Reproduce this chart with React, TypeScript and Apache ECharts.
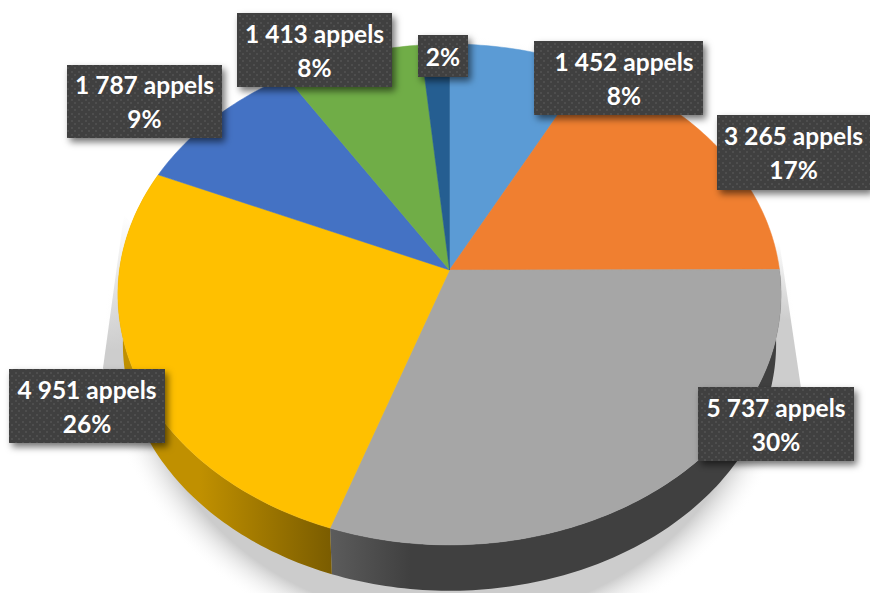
import React, { useEffect, useRef } from "react";
import * as echarts from "echarts";

const sliceNames = ["A", "B", "C", "D", "E", "F", "G"];
const appels = [1452, 3265, 5737, 4951, 1787, 1413, 290];
const labelLines = [
  "1 452 appels\n8%",
  "3 265 appels\n17%",
  "5 737 appels\n30%",
  "4 951 appels\n26%",
  "1 787 appels\n9%",
  "1 413 appels\n8%",
  "2%",
];
const topColors = ["#5B9BD5", "#F07F30", "#A6A6A6", "#FFC000", "#4472C4", "#70AD47", "#255E91"];
const wallColors: Record<number, [string, string]> = {
  2: ["#5C5C5C", "#404040"],
  3: ["#C09000", "#7A5C00"],
};
// label boxes: x, y, w, h, text centre x
const labelBoxes = [
  [534, 41, 169, 74, 624],
  [717, 115, 153, 75, 793.5],
  [698, 387, 156, 74, 776],
  [9, 369, 156, 74, 87],
  [67, 65, 155, 73, 144.5],
  [237, 13, 155, 74, 314.5],
  [418, 35, 50, 42, 443],
];

const total = appels.reduce((a, b) => a + b, 0);
const CX = 449.5, CY = 270, RX = 330, RY = 248, K = 0.0978;
const DEPTH = 50, BOTTOM_SCALE = 0.985;

function project(deg: number, dy = 0, s = 1): number[] {
  const t = (deg * Math.PI) / 180;
  const u = Math.sin(t), v = Math.cos(t);
  const d = 1 + K * v;
  return [CX + (s * RX * u) / d, CY + dy - (s * RY * v) / d];
}
function arc(a: number, b: number, dy = 0, s = 1): number[][] {
  const n = Math.max(2, Math.ceil(Math.abs(b - a)));
  const pts: number[][] = [];
  for (let i = 0; i <= n; i++) pts.push(project(a + ((b - a) * i) / n, dy, s));
  return pts;
}
function range(i: number): [number, number] {
  let before = 0;
  for (let k = 0; k < i; k++) before += appels[k];
  return [(before / total) * 360, ((before + appels[i]) / total) * 360];
}
function dotPattern(): HTMLCanvasElement {
  const c = document.createElement("canvas");
  c.width = 7; c.height = 7;
  const g = c.getContext("2d")!;
  g.fillStyle = "#404040"; g.fillRect(0, 0, 7, 7);
  g.fillStyle = "#4E4E4E";
  g.fillRect(1, 1, 2, 2);
  g.fillRect(4, 4, 2, 2);
  return c;
}

export default function App() {
  const ref = useRef<HTMLDivElement>(null);
  useEffect(() => {
    const chart = echarts.init(ref.current!, undefined, { renderer: "svg" });
    const pattern = { image: dotPattern(), repeat: "repeat" };
    const data = appels.map((v, i) => ({ name: sliceNames[i], value: v }));
    chart.setOption({
      animation: false,
      backgroundColor: "#fff",
      graphic: [
        {
          type: "ellipse", z: 0,
          shape: { cx: 450, cy: 345, rx: 348, ry: 310 },
          style: {
            fill: new echarts.graphic.RadialGradient(0.5, 0.5, 0.5, [
              { offset: 0, color: "#cccccc" },
              { offset: 0.89, color: "#cccccc" },
              { offset: 1, color: "rgba(255,255,255,0)" },
            ]),
          },
        },
        {
          type: "polygon", z: 0,
          shape: { points: [[124, 215], [103, 368], [125, 440], [200, 300]] },
          style: {
            fill: new echarts.graphic.LinearGradient(0, 215, 0, 350, [
              { offset: 0, color: "rgba(205,205,205,0)" },
              { offset: 1, color: "#cdcdcd" },
            ], true),
          },
        },
        {
          type: "polygon", z: 0,
          shape: { points: [[779, 240], [801, 388], [785, 455], [700, 300]] },
          style: {
            fill: new echarts.graphic.LinearGradient(0, 240, 0, 320, [
              { offset: 0, color: "rgba(205,205,205,0)" },
              { offset: 1, color: "#cdcdcd" },
            ], true),
          },
        },
      ],
      series: [
        {
          type: "custom", coordinateSystem: "none", z: 2, data, silent: true,
          renderItem: (p: any) => {
            const i = p.dataIndex;
            const c = wallColors[i];
            if (!c) return { type: "group", children: [] };
            const [a, b] = range(i);
            const top = arc(a, b);
            const bot = arc(b, a, DEPTH, BOTTOM_SCALE);
            const pts = top.concat(bot);
            const xs = pts.map((q) => q[0]);
            const x0 = i === 2 ? Math.min(...xs) : 200;
            const x1 = i === 2 ? 410 : Math.max(...xs);
            return {
              type: "polygon",
              shape: { points: pts },
              style: {
                fill: new echarts.graphic.LinearGradient(x0, 0, x1, 0, [
                  { offset: 0, color: c[0] },
                  { offset: 1, color: c[1] },
                ], true),
              },
            };
          },
        },
        {
          type: "custom", coordinateSystem: "none", z: 3, data, silent: true,
          renderItem: (p: any) => {
            const i = p.dataIndex;
            const [a, b] = range(i);
            const pts = [[CX, CY]].concat(arc(a, b));
            return {
              type: "polygon",
              shape: { points: pts },
              style: { fill: topColors[i], stroke: topColors[i], lineWidth: 0.5 },
            };
          },
        },
        {
          type: "custom", coordinateSystem: "none", z: 4, data, silent: true,
          renderItem: (p: any) => {
            const i = p.dataIndex;
            const [x, y, w, h, tx] = labelBoxes[i];
            return {
              type: "group",
              children: [
                {
                  type: "rect",
                  shape: { x, y, width: w, height: h },
                  style: {
                    fill: "#404040",
                    shadowBlur: 7, shadowOffsetX: 3, shadowOffsetY: 4,
                    shadowColor: "rgba(0,0,0,0.55)",
                  },
                },
                {
                  type: "rect",
                  shape: { x, y, width: w, height: h },
                  style: { fill: pattern },
                },
                {
                  type: "text",
                  x: tx,
                  y: y + h / 2,
                  style: {
                    text: labelLines[i],
                    fill: "#FFFFFF",
                    font: "700 24.5px Lato",
                    lineHeight: 34,
                    align: "center",
                    verticalAlign: "middle",
                  },
                },
              ],
            };
          },
        },
      ],
    });
    return () => chart.dispose();
  }, []);
  return <div ref={ref} style={{ position: "absolute", left: 0, top: 0, width: 870, height: 593 }} />;
}
